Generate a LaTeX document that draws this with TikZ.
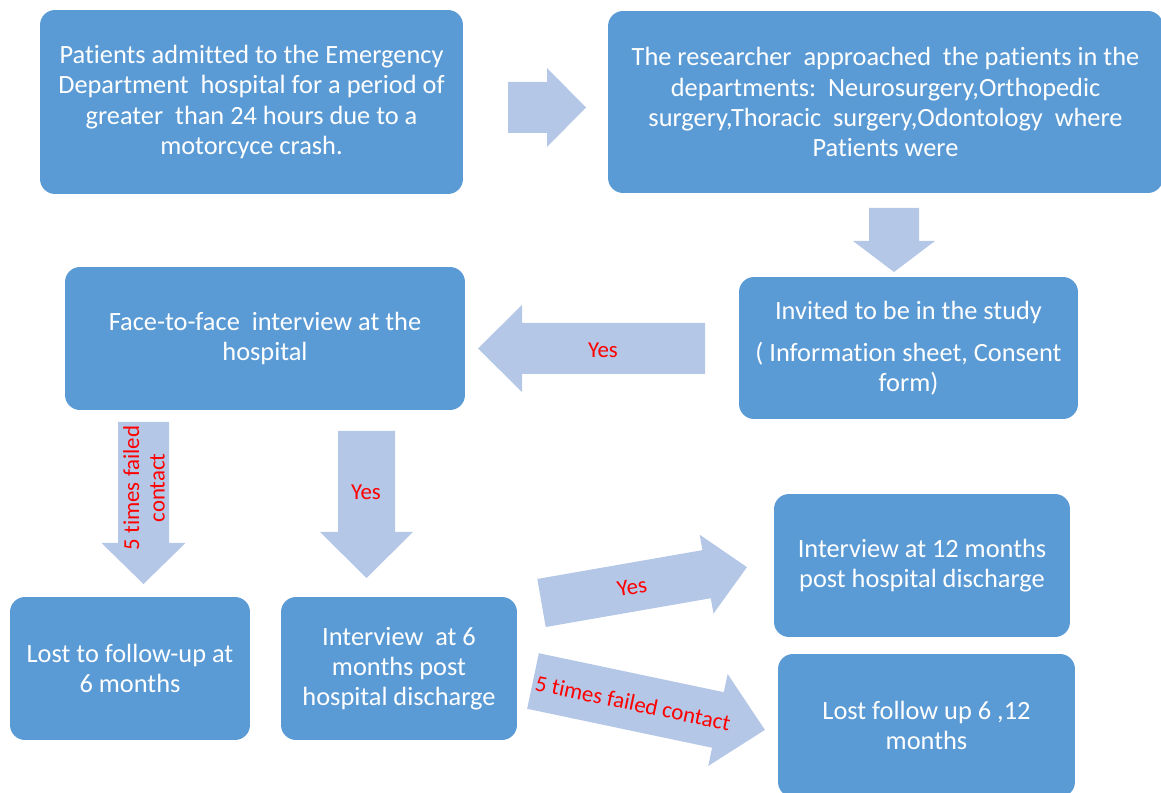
\documentclass[tikz,border=0pt]{standalone}
\usepackage{fontspec}
\setmainfont{Carlito}[RawFeature={-liga;-clig;-dlig;-calt}]
\usepackage{xcolor}
\definecolor{boxblue}{HTML}{5B9BD5}
\definecolor{arrowblue}{HTML}{B4C7E7}
\definecolor{labelred}{HTML}{FF0000}

% block arrow: tail x, tail y, angle, length, shaft half width, head half width, head length
\newcommand{\blockarrow}[7]{%
  \fill[arrowfill, shift={(#1,#2)}, rotate=#3]
    (0,-#5) -- (#4-#7,-#5) -- (#4-#7,-#6) -- (#4,0) -- (#4-#7,#6) -- (#4-#7,#5) -- (0,#5) -- cycle;}

\begin{document}
\begin{tikzpicture}[
    x=0.02cm, y=-0.02cm,
    box/.style={rectangle, rounded corners=0.3cm, fill=boxblue, text=white, align=center, inner sep=0pt, font=\fontsize{15}{17.1}\selectfont},
    lbl/.style={text=labelred, align=center, inner sep=0pt, font=\fontsize{13}{14.5}\selectfont},
    arrowfill/.style={fill=arrowblue}
]
    \path[use as bounding box, clip] (0,0) rectangle (1161,793);
    % Arrows
    \blockarrow{508}{107.5}{0}{78}{25.5}{39.5}{39}
    \blockarrow{894}{208}{-90}{64}{25}{41}{31}
    \blockarrow{705}{348.5}{180}{227}{25.5}{43.5}{44}
    \blockarrow{143.5}{422}{-90}{162}{25.5}{42}{41}
    \blockarrow{366.5}{431}{-90}{147}{28.5}{46.5}{46}
    \blockarrow{541.5}{603}{9.9}{208.6}{24.4}{40}{41}
    \blockarrow{533}{681}{-11.9}{237}{28.4}{47}{48}
    % Admission
    \node[box, minimum width=8.46cm, minimum height=3.68cm] (admit) at (251.5,102)
        {Patients admitted to the Emergency\\Department\ \ hospital for a period of\\greater\ \ than 24 hours due to a\\motorcyce crash.};
    % Departments
    \node[box, minimum width=11.1cm, minimum height=3.64cm] (dept) at (885.5,102)
        {The researcher\ \ approached\ \ the patients in the\\departments:\ \ Neurosurgery,Orthopedic\\surgery,Thoracic\ \ surgery,Odontology\ \ where\\Patients were};
    % Invitation
    \node[box, minimum width=6.78cm, minimum height=2.84cm] (invite) at (908.5,348)
        {Invited to be in the study\\[7pt]( Information sheet, Consent\\form)};
    % Baseline interview
    \node[box, minimum width=8cm, minimum height=2.86cm] (face) at (265,338.5)
        {Face-to-face\ \ interview at the\\hospital};
    % Six months
    \node[box, minimum width=4.8cm, minimum height=2.86cm] (lost6) at (130,668.5)
        {Lost to follow-up\ at\\6 months};
    \node[box, minimum width=4.72cm, minimum height=2.86cm] (int6) at (399,668.5)
        {Interview\ \ at 6\\months post\\hospital discharge};
    % Twelve months
    \node[box, minimum width=5.92cm, minimum height=2.86cm] (int12) at (922,565.5)
        {Interview at 12 months\\post hospital discharge};
    \node[box, minimum width=5.94cm, minimum height=2.86cm] (lost12) at (926.5,725.5)
        {Lost follow up 6 ,12\\months};
    % Arrow labels
    \node[lbl] (yesface) at (603,350) {Yes};
    \node[lbl, rotate=90] (failsix) at (144,488) {5 times failed\\contact};
    \node[lbl] (yessix) at (366,492) {Yes};
    \node[lbl, rotate=9.9] (yestwelve) at (632,587) {Yes};
    \node[lbl, rotate=-11.9] (failtwelve) at (633,703) {5 times failed contact};
\end{tikzpicture}
\end{document}
